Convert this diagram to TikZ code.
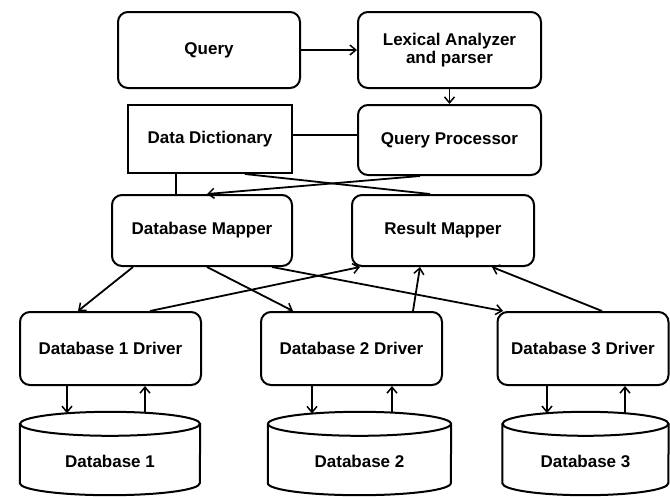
\documentclass[tikz,border=0pt]{standalone}
\usepackage{fontspec}
\setmainfont{Liberation Sans}
\usetikzlibrary{arrows.meta,calc}
\begin{document}
\begin{tikzpicture}[x=1pt,y=-1pt,
  box/.style={draw, line width=2pt, rounded corners=10pt, align=center,
    font=\fontsize{17}{18}\selectfont\bfseries, inner sep=0pt},
  sqbox/.style={box, rounded corners=0pt},
  dbshape/.style={inner sep=0pt},
  lbl/.style={inner sep=0pt, font=\fontsize{17}{18}\selectfont\bfseries},
  conn/.style={line width=1.8pt},
  arr/.style={conn, -{Straight Barb[length=6pt,width=10pt,line width=1.5pt]}}
]
\useasboundingbox (0,0) rectangle (670,496);

\node[box, minimum width=182pt, minimum height=76pt] (q) at (209,50) {Query};
\node[box, minimum width=183pt, minimum height=76pt] (lex) at (449.5,50) {Lexical Analyzer\\and parser};
\node[sqbox, minimum width=164pt, minimum height=68pt] (dd) at (210,139) {Data Dictionary};
\node[box, minimum width=183pt, minimum height=70pt] (qp) at (449.5,140) {Query Processor};
\node[box, minimum width=180pt, minimum height=71pt] (dbm) at (202,230.5) {Database Mapper};
\node[box, minimum width=182pt, minimum height=71pt] (rm) at (443,230.5) {Result Mapper};
\node[box, minimum width=181pt, minimum height=73pt] (d1) at (110.5,348.5) {Database 1 Driver};
\node[box, minimum width=181pt, minimum height=73pt] (d2) at (351.5,348.5) {Database 2 Driver};
\node[box, minimum width=171pt, minimum height=73pt] (d3) at (583,348.5) {Database 3 Driver};

\node[dbshape, minimum width=180pt, minimum height=83pt] (db1) at (110,453.5) {};
\node[dbshape, minimum width=183pt, minimum height=83pt] (db2) at (359.5,453.5) {};
\node[dbshape, minimum width=166pt, minimum height=83pt] (db3) at (585.5,453.5) {};
\node[lbl] (db1t) at ($(db1.center)+(0,8)$) {Database 1};
\node[lbl] (db2t) at ($(db2.center)+(0,8)$) {Database 2};
\node[lbl] (db3t) at ($(db3.center)+(0,8)$) {Database 3};

\foreach \n/\r in {db1/90, db2/91.5, db3/83} {
  \draw[conn, line width=2pt] ($(\n.north west)+(0,12)$) -- ($(\n.south west)+(0,-12)$)
    arc[start angle=180, end angle=360, x radius=\r pt, y radius=12pt]
    -- ($(\n.north east)+(0,12)$);
  \draw[conn, line width=2pt] ($(\n.north)+(0,12)$) ellipse[x radius=\r pt, y radius=12pt];
}

% top part
\draw[arr] (q) -- (lex);
\draw[arr] (lex) -- (qp);
\draw[conn] ($(dd.east)+(0,-4)$) -- ($(dd.east -| qp.west)+(0,-4)$);
\draw[conn] ($(dd.south)+(-34,0)$) -- ($(dbm.north)+(-26,0)$);
\draw[conn] ($(dd.south)+(35,0)$) -- ($(rm.north)+(-13,0)$);
\draw[arr] ($(qp.south)+(-29.5,0)$) -- ($(dbm.north)+(5,0)$);

% mappers and drivers
\draw[arr] ($(dbm.south)+(-69,0)$) -- ($(d1.north)+(-32.5,0)$);
\draw[arr] ($(dbm.south)+(5,0)$) -- ($(d2.north)+(-58.5,0)$);
\draw[arr] ($(dbm.south)+(70,0)$) -- ($(d3.north)+(-80,0)$);
\draw[arr] ($(d1.north)+(39.5,0)$) -- ($(rm.south)+(-83,0)$);
\draw[arr] ($(d2.north)+(61.5,0)$) -- ($(rm.south)+(-23,0)$);
\draw[arr] ($(d3.north)+(19,0)$) -- ($(rm.south)+(49,0)$);

% drivers and databases
\draw[arr] ($(d1.south)+(-43.5,0)$) -- ($(db1.north)+(-43,1.5)$);
\draw[arr] ($(db1.north)+(35,1)$) -- ($(d1.south)+(34.5,0)$);
\draw[arr] ($(d2.south)+(-39.5,0)$) -- ($(db2.north)+(-47.5,1.7)$);
\draw[arr] ($(db2.north)+(32.5,0.8)$) -- ($(d2.south)+(40.5,0)$);
\draw[arr] ($(d3.south)+(-36,0)$) -- ($(db3.north)+(-38.5,1.4)$);
\draw[arr] ($(db3.north)+(39.5,1.4)$) -- ($(d3.south)+(42,0)$);
\end{tikzpicture}
\end{document}
